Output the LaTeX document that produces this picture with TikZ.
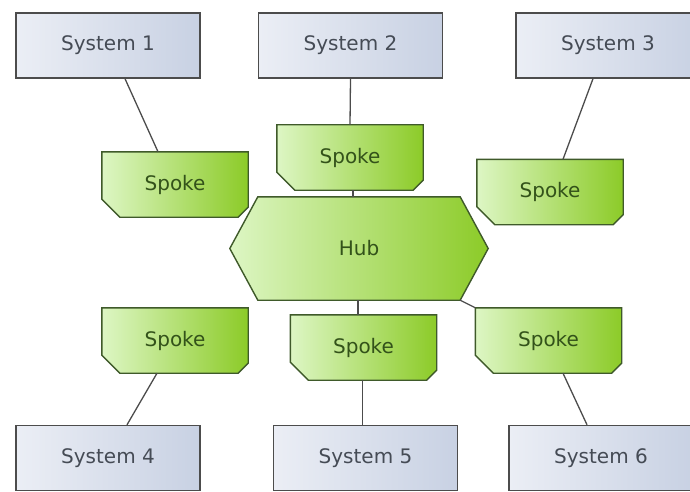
\documentclass[tikz,border=0pt]{standalone}
\usepackage{fontspec}
\setmainfont{DejaVu Sans}
\usetikzlibrary{backgrounds}
\definecolor{sysleft}{HTML}{EBEEF5}
\definecolor{sysright}{HTML}{C8D1E3}
\definecolor{spokeleft}{HTML}{DDF6C4}
\definecolor{spokeright}{HTML}{8CCB28}
\definecolor{edgegray}{HTML}{4C4C4C}
\definecolor{spokeedge}{HTML}{3F5A2A}
\definecolor{systext}{HTML}{454B55}
\definecolor{spoketext}{HTML}{33521A}
\newcommand{\spokeshape}[1]{%
  \draw[spokeline] (#1.north west) -- (#1.north east) -- ([yshift=10pt]#1.south east)
    -- ([xshift=-10pt]#1.south east) -- ([xshift=18pt]#1.south west) -- ([yshift=18pt]#1.south west) -- cycle;}
\begin{document}
\begin{tikzpicture}[x=1pt,y=-1pt,
    system/.style={draw=edgegray,line width=1.4pt,left color=sysleft,right color=sysright,
      minimum width=184pt,minimum height=65pt,text=systext,font=\fontsize{20}{24}\selectfont},
    spoke/.style={minimum width=146pt,minimum height=65pt,text=spoketext,font=\fontsize{20}{24}\selectfont},
    spokeline/.style={draw=spokeedge,line width=1.4pt,left color=spokeleft,right color=spokeright},
    link/.style={draw=edgegray,line width=1.3pt}]
  \useasboundingbox (0,0) rectangle (690,492);
  % systems
  \node[system] (sys1) at (108,45.5) {System 1};
  \node[system] (sys2) at (350.5,45.5) {System 2};
  \node[system] (sys3) at (608,45.5) {System 3};
  \node[system] (sys4) at (108,458) {System 4};
  \node[system] (sys5) at (365.5,458) {System 5};
  \node[system] (sys6) at (601,458) {System 6};
  % spokes and hub
  \node[spoke] (spTL) at (175,184.5) {Spoke};
  \node[spoke] (spTC) at (350,157.5) {Spoke};
  \node[spoke] (spTR) at (550,192) {Spoke};
  \node[spoke] (spBL) at (175,340.5) {Spoke};
  \node[spoke] (spBC) at (363.5,347.5) {Spoke};
  \node[spoke] (spBR) at (548.5,340.5) {Spoke};
  \node[spoke,minimum width=258pt,minimum height=103pt] (hub) at (359,248.5) {Hub};
  \begin{scope}[on background layer]
    \spokeshape{spTL}
    \spokeshape{spTC}
    \spokeshape{spTR}
    \spokeshape{spBL}
    \spokeshape{spBC}
    \spokeshape{spBR}
    \draw[spokeline] ([xshift=28pt]hub.north west) -- ([xshift=-28pt]hub.north east) -- (hub.east)
      -- ([xshift=-28pt]hub.south east) -- ([xshift=28pt]hub.south west) -- (hub.west) -- cycle;
  \end{scope}
  % links
  \draw[link] ([xshift=17pt]sys1.south) -- ([xshift=-17pt]spTL.north);
  \draw[link] (sys2.south) -- (spTC.north);
  \draw[link] ([xshift=-15pt]sys3.south) -- ([xshift=13pt]spTR.north);
  \draw[link] ([xshift=3pt]spTC.south) -- ([xshift=-6pt]hub.north);
  \draw[link] ([xshift=-1pt]hub.south) -- ([xshift=-5.5pt]spBC.north);
  \draw[link] ([xshift=-28pt]hub.south east) -- (spBR.north west);
  \draw[link] ([xshift=-18pt]spBL.south) -- ([xshift=19pt]sys4.north);
  \draw[link] ([xshift=-1pt]spBC.south) -- ([xshift=-3pt]sys5.north);
  \draw[link] ([xshift=14.5pt]spBR.south) -- ([xshift=-14pt]sys6.north);
\end{tikzpicture}
\end{document}
